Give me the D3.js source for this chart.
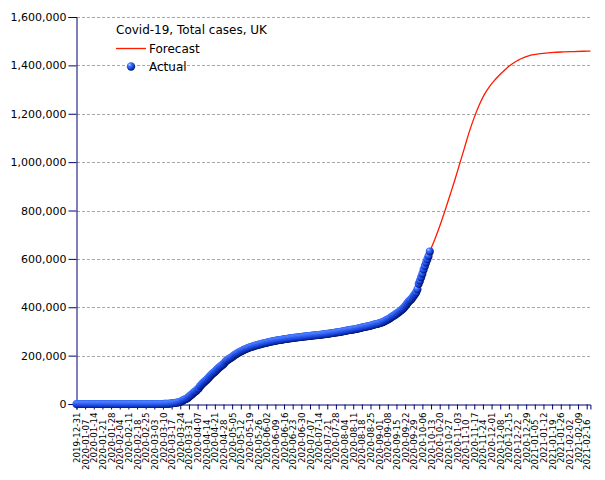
<!DOCTYPE html>
<html>
<head>
<meta charset="utf-8">
<script src="https://cdn.jsdelivr.net/npm/d3@7"></script>
<style>
  html, body { margin: 0; padding: 0; background: #fff; }
  svg { display: block; }
</style>
</head>
<body>
<svg id="chart" width="605" height="480"></svg>
<script>
// ---------------- DATA ----------------
const chartTitle = "Covid-19, Total cases, UK";
const seriesNames = ["Forecast", "Actual"];

// first day of the "Actual" series; one value per consecutive day
const actualStart = "2019-12-31";
const actualValues = [
  // 2019-12-31, Jan 2020
  0,
  0,0,0,0,0,0,0,0,0,0, 0,0,0,0,0,0,0,0,0,0, 0,0,0,0,0,0,0,0,0,0, 2,
  // Feb
  2,2,2,2,2,2,2,2,2,8, 8,9,9,9,9,9,9,9,9,9, 9,9,9,9,13,13,15,20,23,
  // Mar
  40,51,87,116,164,209,278,321,383,460,
  590,798,1140,1372,1543,1950,2626,3269,3983,5018,
  5683,6650,8077,9529,11658,14543,17089,19522,22141,25150,29474,
  // Apr
  33718,38168,41903,47806,51608,55242,60733,65077,73758,78991,
  84279,88621,93873,98476,103093,108692,114217,120067,124743,129044,
  133495,138078,143464,148377,152840,157149,161145,165221,171253,177454,
  // May
  181000,184800,188000,191000,194500,198500,202500,206000,209000,211800,
  214500,217300,220000,222600,225200,227600,229700,231500,233300,235200,
  237000,238800,240500,242000,243300,244600,246000,247400,248800,250100,251300,
  // Jun
  252500,253700,254900,256100,257300,258400,259400,260300,261200,262200,
  263200,264200,265100,265900,266700,267500,268300,269100,269900,270700,
  271400,272100,272800,273500,274200,274900,275600,276200,276800,277400,
  // Jul
  278000,278600,279200,279800,280400,280900,281500,282100,282700,283300,
  283900,284500,285000,285600,286200,286800,287500,288200,288800,289400,
  290100,290800,291600,292400,293200,293900,294600,295400,296200,297100,298000,
  // Aug
  298900,299700,300600,301500,302600,303500,304600,305600,306500,307400,
  308400,309400,310500,311600,312600,313600,314600,315800,317000,318200,
  319300,320400,321500,322700,324000,325400,326700,328200,329500,330700,332100,
  // Sep
  333500,334940,336740,338553,341541,344489,346949,349608,352527,356066,
  359563,362893,365514,368619,372610,376005,380327,384749,388648,393016,
  397942,404120,410754,417628,423670,429363,433407,440550,447658,454572,
  // Oct 1 - Oct 12
  461540,474412,497373,509967,524509,538671,556211,570075,585241,598113,
  612085,631000
];

const forecastDates = [
  "2020-10-12","2020-10-16","2020-10-20","2020-10-24","2020-10-28",
  "2020-11-01","2020-11-05","2020-11-09","2020-11-13","2020-11-17",
  "2020-11-21","2020-11-25","2020-11-29","2020-12-03","2020-12-07",
  "2020-12-11","2020-12-15","2020-12-19","2020-12-23","2020-12-27",
  "2020-12-31","2021-01-04","2021-01-08","2021-01-12","2021-01-20",
  "2021-01-28","2021-02-05","2021-02-13","2021-02-19"
];
const forecastValues = [
  631000,680000,735000,795000,858000,
  922000,990000,1058000,1126000,1185000,
  1236000,1278000,1310000,1336000,1358000,
  1378000,1396000,1411000,1423000,1432000,
  1439000,1444000,1447500,1450000,1453500,
  1455500,1457000,1458300,1459000
];

const xTickLabels = [
  "2019-12-31","2020-01-07","2020-01-14","2020-01-21","2020-01-28","2020-02-04",
  "2020-02-11","2020-02-18","2020-02-25","2020-03-03","2020-03-10","2020-03-17",
  "2020-03-24","2020-03-31","2020-04-07","2020-04-14","2020-04-21","2020-04-28",
  "2020-05-05","2020-05-12","2020-05-19","2020-05-26","2020-06-02","2020-06-09",
  "2020-06-16","2020-06-23","2020-06-30","2020-07-07","2020-07-14","2020-07-21",
  "2020-07-28","2020-08-04","2020-08-11","2020-08-18","2020-08-25","2020-09-01",
  "2020-09-08","2020-09-15","2020-09-22","2020-09-29","2020-10-06","2020-10-13",
  "2020-10-20","2020-10-27","2020-11-03","2020-11-10","2020-11-17","2020-11-24",
  "2020-12-01","2020-12-08","2020-12-15","2020-12-22","2020-12-29","2021-01-05",
  "2021-01-12","2021-01-19","2021-01-26","2021-02-02","2021-02-09","2021-02-16"
];
const xDomain = ["2019-12-31", "2021-02-19"];
const yTickValues = [0,200000,400000,600000,800000,1000000,1200000,1400000,1600000];

// ---------------- CHART ----------------
const parse = d3.utcParse("%Y-%m-%d");
const svg = d3.select("#chart");
const FONT = "'DejaVu Sans', Verdana, sans-serif";
const axisColor = "#000070";

const x = d3.scaleUtc().domain(xDomain.map(parse)).range([76.5, 590.4]);
const y = d3.scaleLinear().domain([0, 1600000]).range([404, 17]);

const start = parse(actualStart);
const actual = actualValues.map((v, i) => ({ date: d3.utcDay.offset(start, i), value: v }));
const forecast = forecastDates.map((d, i) => ({ date: parse(d), value: forecastValues[i] }));

// defs: sphere gradient
const defs = svg.append("defs");
const grad = defs.append("radialGradient").attr("id", "ball")
  .attr("cx", "35%").attr("cy", "32%").attr("r", "70%").attr("fx", "32%").attr("fy", "28%");
grad.append("stop").attr("offset", "0%").attr("stop-color", "#b9d0ff");
grad.append("stop").attr("offset", "30%").attr("stop-color", "#3f73ff");
grad.append("stop").attr("offset", "70%").attr("stop-color", "#1640d8");
grad.append("stop").attr("offset", "100%").attr("stop-color", "#00126a");

// gridlines
svg.append("g").selectAll("line")
  .data(yTickValues.filter(d => d > 0))
  .join("line")
  .attr("x1", 77).attr("x2", 590)
  .attr("y1", d => Math.round(y(d)) + 0.5).attr("y2", d => Math.round(y(d)) + 0.5)
  .attr("stroke", "#a8a8a8").attr("stroke-width", 1).attr("stroke-dasharray", "3,2");

// y axis
const yAxis = svg.append("g").attr("transform", "translate(76.5,0)")
  .call(d3.axisLeft(y).tickValues(yTickValues).tickFormat(d3.format(",")).tickSizeOuter(0).tickSize(8).tickPadding(2));
yAxis.select(".domain").attr("stroke", axisColor);
yAxis.selectAll(".tick line").attr("stroke", axisColor);
yAxis.selectAll("text").attr("font-family", FONT).attr("font-size", 11).attr("fill", "#000");

// x axis
const xAxis = svg.append("g").attr("transform", "translate(0,404.5)")
  .call(d3.axisBottom(x).tickValues(xTickLabels.map(parse))
    .tickFormat(d3.utcFormat("%Y-%m-%d")).tickSizeOuter(0).tickSize(5));
xAxis.select(".domain").attr("stroke", axisColor);
xAxis.selectAll(".tick line").attr("stroke", axisColor);
xAxis.selectAll("text")
  .attr("font-family", FONT).attr("font-size", 8.7).attr("fill", "#000")
  .attr("text-anchor", "end")
  .attr("transform", "rotate(-90)")
  .attr("y", 0)
  .attr("dy", "0.35em")
  .attr("x", (d, i) => -(8 + (i % 2) * 7));

// forecast line
svg.append("path")
  .datum(forecast)
  .attr("fill", "none").attr("stroke", "#ff1a00").attr("stroke-width", 1.3)
  .attr("d", d3.line().x(d => x(d.date)).y(d => y(d.value)).curve(d3.curveMonotoneX));

// actual points
svg.append("g").selectAll("circle")
  .data(actual)
  .join("circle")
  .attr("cx", d => x(d.date)).attr("cy", d => y(d.value))
  .attr("r", 4)
  .attr("fill", "url(#ball)");

// legend
const lg = svg.append("g").attr("font-family", FONT).attr("font-size", 12).attr("fill", "#000");
lg.append("text").attr("x", 116).attr("y", 34).text(chartTitle);
lg.append("line").attr("x1", 116).attr("x2", 146).attr("y1", 48.5).attr("y2", 48.5)
  .attr("stroke", "#ff1a00").attr("stroke-width", 1.3);
lg.append("text").attr("x", 149).attr("y", 52.5).text(seriesNames[0]);
lg.append("circle").attr("cx", 131).attr("cy", 66.5).attr("r", 4.2).attr("fill", "url(#ball)");
lg.append("text").attr("x", 149).attr("y", 71).text(seriesNames[1]);
</script>
</body>
</html>
